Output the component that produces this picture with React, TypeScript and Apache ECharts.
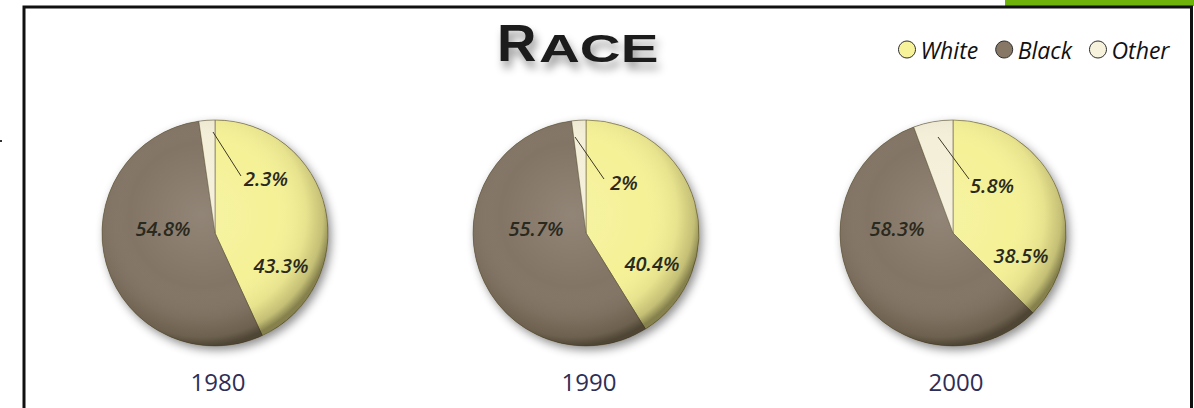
import React, { useEffect, useRef } from "react";
import * as echarts from "echarts";

const CATEGORIES = ["White", "Black", "Other"];
const YEARS = ["1980", "1990", "2000"];
const VALUES_1980 = [43.3, 54.8, 2.3];
const VALUES_1990 = [40.4, 55.7, 2];
const VALUES_2000 = [38.5, 58.3, 5.8];
const VALUES = [VALUES_1980, VALUES_1990, VALUES_2000];

// layout (not data)
const CENTERS = [
  [215, 233],
  [586, 233],
  [953, 233],
];
const RADIUS = 113;
const SLICE_COLORS = ["#f5f197", "#837565", "#f4efd8"];
const LEGEND_COLORS = ["#f7f39a", "#877866", "#f7f2dc"];
// label offsets relative to pie centre: [White, Black, Other]
const LABEL_OFFSETS = [
  [[66, 32], [-52, -5], [51, -55]],
  [[66, 30], [-50, -5], [38, -51]],
  [[68, 22], [-56, -5], [39, -48]],
];
// leader line for the "Other" label: start (inside slice) and end
const LEADERS = [
  [[-2, -101], [26, -57]],
  [[-11, -96], [18, -54]],
  [[-15, -96], [16, -54]],
];

const LABEL_FONT = '"Open Sans", "Liberation Sans", sans-serif';

export default function App() {
  const ref = useRef<HTMLDivElement>(null);

  useEffect(() => {
    if (!ref.current) return;
    const chart = echarts.init(ref.current, null, { renderer: "svg" });

    const mainSeries = VALUES.map((vals, i) => ({
      type: "pie",
      z: 2,
      silent: true,
      center: CENTERS[i],
      radius: RADIUS,
      startAngle: 90,
      clockwise: true,
      avoidLabelOverlap: false,
      label: { show: false },
      labelLine: { show: false },
      emphasis: { disabled: true },
      itemStyle: { borderColor: "rgba(95,85,55,0.55)", borderWidth: 1 },
      data: vals.map((v, k) => ({
        name: CATEGORIES[k],
        value: v,
        itemStyle: { color: SLICE_COLORS[k] },
      })),
    }));

    const baseSeries = VALUES.map((_, i) => ({
      type: "pie",
      z: 1,
      silent: true,
      center: CENTERS[i],
      radius: RADIUS,
      label: { show: false },
      labelLine: { show: false },
      emphasis: { disabled: true },
      itemStyle: {
        color: "#7a6d5c",
        shadowBlur: 10,
        shadowOffsetX: 3,
        shadowOffsetY: 4,
        shadowColor: "rgba(0,0,0,0.45)",
      },
      data: [{ name: "base" + i, value: 1 }],
    }));

    const shadeSeries = VALUES.map((_, i) => ({
      type: "pie",
      z: 3,
      silent: true,
      center: CENTERS[i],
      radius: RADIUS,
      label: { show: false },
      labelLine: { show: false },
      emphasis: { disabled: true },
      itemStyle: {
        color: new echarts.graphic.RadialGradient(0.44, 0.42, 0.58, [
          { offset: 0, color: "rgba(255,255,255,0.12)" },
          { offset: 0.55, color: "rgba(255,255,255,0)" },
          { offset: 0.8, color: "rgba(40,32,10,0.07)" },
          { offset: 0.93, color: "rgba(40,32,10,0.24)" },
          { offset: 1, color: "rgba(30,25,8,0.52)" },
        ]),
      },
      data: [{ name: "shade" + i, value: 1 }],
    }));

    const labelSeries = VALUES.map((vals, i) => ({
      type: "pie",
      z: 4,
      silent: true,
      center: CENTERS[i],
      radius: RADIUS,
      startAngle: 90,
      clockwise: true,
      avoidLabelOverlap: false,
      emphasis: { disabled: true },
      itemStyle: { color: "rgba(0,0,0,0)" },
      label: {
        show: true,
        formatter: (p: any) => p.value + "%",
        fontFamily: LABEL_FONT,
        fontStyle: "italic",
        fontWeight: 600,
        fontSize: 20,
        color: "#2a291e",
      },
      labelLine: { show: false },
      labelLayout: (params: any) => {
        const [cx, cy] = CENTERS[i];
        const [dx, dy] = LABEL_OFFSETS[i][params.dataIndex];
        const res: any = {
          x: cx + dx,
          y: cy + dy,
          align: "center",
          verticalAlign: "middle",
        };
        if (params.dataIndex === 2) {
          const [[sx, sy], [ex, ey]] = LEADERS[i];
          res.labelLinePoints = [
            [cx + sx, cy + sy],
            [cx + (sx + ex) / 2, cy + (sy + ey) / 2],
            [cx + ex, cy + ey],
          ];
        }
        return res;
      },
      data: vals.map((v, k) => ({
        name: "lbl-" + CATEGORIES[k],
        value: v,
        label: { position: k === 2 ? "outside" : "inside" },
        labelLine: {
          show: k === 2,
          lineStyle: { color: "#3d3824", width: 1 },
        },
      })),
    }));

    const series = [...mainSeries, ...baseSeries, ...shadeSeries, ...labelSeries];

    const titleStyle = {
      fill: "#1a1a1a",
      align: "left",
      verticalAlign: "middle",
      textShadowColor: "rgba(0,0,0,0.4)",
      textShadowBlur: 9,
      textShadowOffsetX: 3,
      textShadowOffsetY: 7,
    };

    const graphic: any[] = [
      {
        type: "rect",
        shape: { x: 1005, y: 0, width: 189, height: 6 },
        style: { fill: "#6db30b" },
        z: 0,
      },
      {
        type: "rect",
        shape: { x: 24, y: 7, width: 1167.5, height: 420 },
        style: { fill: "none", stroke: "#111", lineWidth: 3 },
        z: 0,
      },
      {
        type: "rect",
        shape: { x: 0, y: 140, width: 2, height: 2 },
        style: { fill: "#333" },
      },
      {
        type: "text",
        x: 497,
        y: 43,
        scaleX: 1.05,
        style: {
          ...titleStyle,
          text: "R",
          font: 'bold 52px "Liberation Sans", sans-serif',
        },
      },
      {
        type: "text",
        x: 539,
        y: 48,
        scaleX: 1.45,
        style: {
          ...titleStyle,
          text: "ACE",
          font: 'bold 39px "Liberation Sans", sans-serif',
        },
      },
      ...YEARS.map((y, i) => ({
        type: "text",
        x: CENTERS[i][0] + 3,
        y: 381,
        style: {
          text: y,
          font: '500 24px "Open Sans", "Liberation Sans", sans-serif',
          fill: "#2d2e57",
          align: "center",
          verticalAlign: "middle",
        },
      })),
    ];

    chart.setOption({
      animation: false,
      legend: {
        data: CATEGORIES.map((c, k) => ({
          name: c,
          itemStyle: { color: LEGEND_COLORS[k], borderColor: "#2a2a2a", borderWidth: 1 },
        })),
        left: 893,
        top: 33,
        icon: "circle",
        itemWidth: 17,
        itemHeight: 17,
        itemGap: 17,
        selectedMode: false,
        textStyle: {
          fontFamily: LABEL_FONT,
          fontStyle: "italic",
          fontSize: 23,
          color: "#111",
        },
      },
      graphic,
      series,
    });

    return () => chart.dispose();
  }, []);

  return (
    <div
      ref={ref}
      style={{
        position: "fixed",
        left: 0,
        top: 0,
        width: "1194px",
        height: "408px",
        background: "#fff",
      }}
    />
  );
}
